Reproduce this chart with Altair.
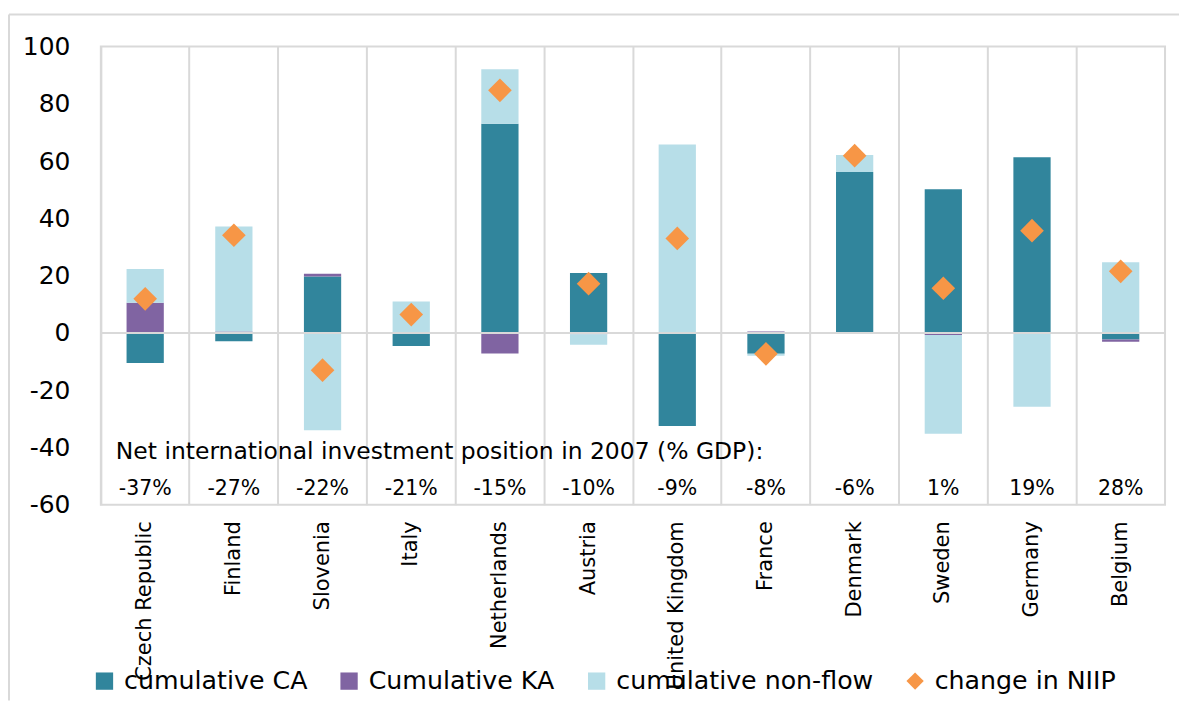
import altair as alt
import pandas as pd

countries = ["Czech Republic", "Finland", "Slovenia", "Italy", "Netherlands", "Austria",
             "United Kingdom", "France", "Denmark", "Sweden", "Germany", "Belgium"]
cum_ca = [-10.5, -2.9, 19.7, -4.6, 73.0, 20.9, -32.5, -7.3, 56.2, 50.2, 61.3, -2.3]
cum_ka = [10.5, 0.5, 1.0, 0.0, -7.2, -0.5, 0.0, 0.5, 0.0, -0.7, 0.0, -0.8]
cum_nonflow = [11.8, 36.7, -34.0, 11.0, 19.1, -3.6, 65.8, -0.7, 5.9, -34.5, -25.8, 24.7]
change_niip = [11.9, 34.1, -13.0, 6.4, 84.7, 17.2, 33.0, -7.3, 61.9, 15.6, 35.7, 21.5]
niip_2007 = ["-37%", "-27%", "-22%", "-21%", "-15%", "-10%", "-9%", "-8%", "-6%", "1%", "19%", "28%"]
y_ticks = [-60, -40, -20, 0, 20, 40, 60, 80, 100]
header = "Net international investment position in 2007 (% GDP):"

series_names = ["cumulative CA", "Cumulative KA", "cumulative non-flow", "change in NIIP"]
series_colors = ["#31859C", "#8064A2", "#B7DEE8", "#F79646"]
series_shapes = ["square", "square", "square", "diamond"]

rows = []
for i, c in enumerate(countries):
    for k, (name, vals) in enumerate(zip(series_names, [cum_ca, cum_ka, cum_nonflow, change_niip])):
        rows.append({"country": c, "series": name, "value": vals[i], "ord": k})
df = pd.DataFrame(rows)
lab_df = pd.DataFrame({"country": countries, "label": niip_2007})
head_df = pd.DataFrame({"t": [header]})

W, H = 1066, 459
FONT = "DejaVu Sans"

legend = alt.Legend(orient="none", legendX=-9, legendY=623, direction="horizontal",
                    columns=4, title=None, labelFontSize=25.3, labelFont=FONT,
                    labelColor="#000000", symbolSize=300, columnPadding=29,
                    labelOffset=7, symbolStrokeWidth=0, symbolOpacity=1, labelLimit=400,
                    padding=0)

xenc = alt.X("country:N", sort=countries, title=None,
             scale=alt.Scale(paddingInner=0, paddingOuter=0),
             axis=alt.Axis(bandPosition=0, grid=True, gridColor="#d9d9d9", gridWidth=2,
                           ticks=False, domain=False, labelAngle=270, labelPadding=16,
                           labelFontSize=21, labelFont=FONT, labelColor="#000000",
                           labelOverlap=False, labelLimit=300))
yscale = alt.Scale(domain=[-60, 100], nice=False, zero=False)

base = alt.Chart(df)

bars = base.transform_filter("datum.series != 'change in NIIP'").mark_bar(
    width=alt.RelativeBandSize(0.42)
).encode(
    x=xenc,
    y=alt.Y("value:Q", stack="zero", scale=yscale, title=None,
            axis=alt.Axis(values=y_ticks, grid=False, ticks=False, domain=False,
                          labelFontSize=25, labelFont=FONT, labelColor="#000000",
                          labelPadding=31, labelExpr="'' + datum.value")),
    color=alt.Color("series:N", scale=alt.Scale(domain=series_names, range=series_colors),
                    legend=legend),
    order=alt.Order("ord:Q"),
)

zero = alt.Chart(head_df).mark_rule(color="#d9d9d9", strokeWidth=2).encode(y=alt.datum(0))

points = base.transform_filter("datum.series == 'change in NIIP'").mark_point(
    filled=True, size=560, opacity=1, strokeWidth=0
).encode(
    x=xenc,
    y=alt.Y("value:Q", scale=yscale),
    color=alt.Color("series:N", scale=alt.Scale(domain=series_names, range=series_colors),
                    legend=legend),
    shape=alt.Shape("series:N", scale=alt.Scale(domain=series_names, range=series_shapes),
                    legend=legend),
)

pct = alt.Chart(lab_df).mark_text(fontSize=20.5, font=FONT, color="#000000", baseline="middle").encode(
    x=xenc, y=alt.datum(-54.5), text="label:N"
)

head = alt.Chart(head_df).mark_text(fontSize=23.5, font=FONT, color="#000000", align="left",
                                    baseline="middle").encode(
    x=alt.value(15), y=alt.datum(-41.5), text="t:N"
)

border_top = alt.Chart(head_df).mark_rule(color="#d9d9d9", strokeWidth=2).encode(
    x=alt.value(-92), x2=alt.value(1080), y=alt.value(-32)
)
border_left = alt.Chart(head_df).mark_rule(color="#d9d9d9", strokeWidth=2).encode(
    x=alt.value(-92), y=alt.value(-32), y2=alt.value(655)
)

chart = alt.layer(border_top, border_left, bars, zero, points, pct, head).properties(
    width=W, height=H, padding={"left": 0, "top": 5, "right": 0, "bottom": 0}
).configure(font=FONT).configure_view(stroke="#d9d9d9", strokeWidth=2)

chart.save("out.html", embed_options={"renderer": "svg", "actions": False})
